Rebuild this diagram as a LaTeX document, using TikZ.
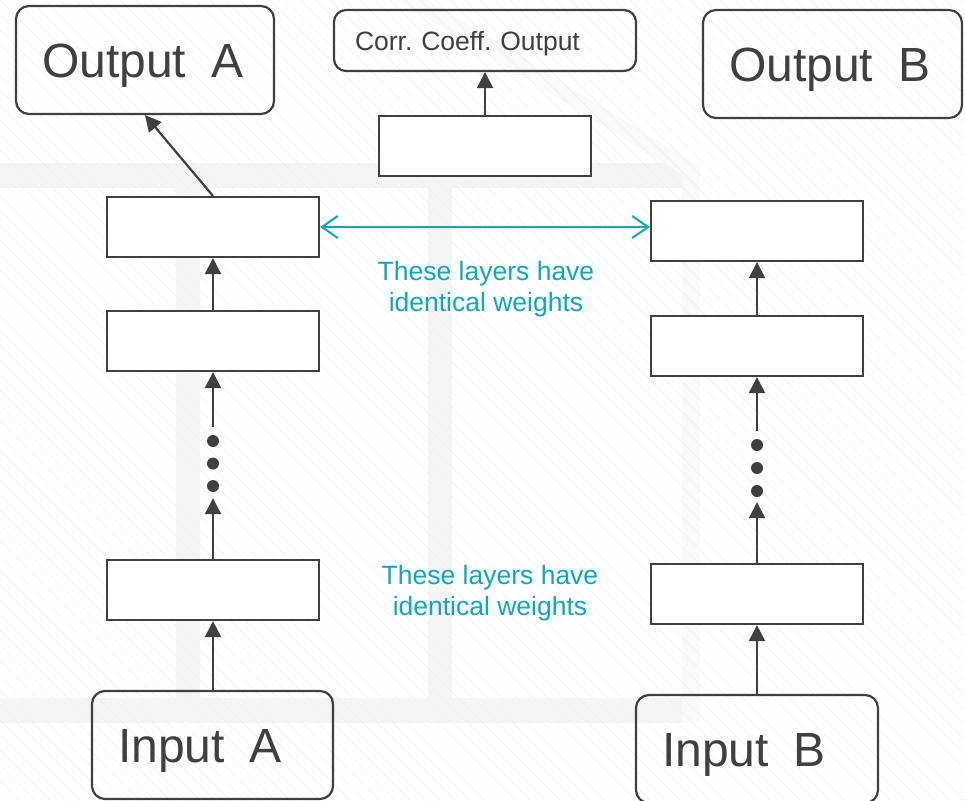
\documentclass[tikz,border=0pt]{standalone}
\usepackage{fontspec}
\setmainfont{Liberation Sans}
\usetikzlibrary{arrows.meta}
\definecolor{linegray}{HTML}{404040}
\definecolor{wteal}{HTML}{12A8B8}
\definecolor{bandgray}{HTML}{F5F5F5}
\definecolor{hatch}{HTML}{E9F4F5}

\begin{document}
\frenchspacing
\begin{tikzpicture}[x=1pt, y=-1pt,
	io/.style={draw=linegray, line width=2.2pt, rounded corners=13pt, text=linegray,
		minimum width=#1, minimum height=108pt, inner xsep=26pt, text width=#1-52pt, align=left,
		text height=35pt, text depth=0pt, font=\fontsize{48}{58}\selectfont},
	layer/.style={draw=linegray, line width=2.2pt, fill=white, minimum width=212pt, minimum height=60pt},
	dot/.style={circle, fill=linegray, inner sep=0pt, minimum size=12pt},
	arr/.style={draw=linegray, line width=2.2pt, -{Triangle[length=16pt,width=16pt]}},
	note/.style={text=wteal, align=center, font=\fontsize{26.5}{31}\selectfont}]

	% background
	\fill[white] (0,0) rectangle (965,800);
	\useasboundingbox (0,0) rectangle (965,800);
	\begin{scope}
		\clip (0,0) rectangle (965,800);
		\fill[bandgray] (0,163) rectangle (685,188);
		\fill[bandgray] (0,698) rectangle (685,723);
		\fill[bandgray] (176,188) rectangle (200,698);
		\fill[bandgray] (428,188) rectangle (452,698);
		\fill[bandgray!50!white] (682,163) rectangle (700,723);
		\draw[bandgray!45!white, line width=16pt] (405,-5) -- (690,170);
		\foreach \c in {-960,-945,...,960}
			\draw[hatch, line width=0.7pt] (\c,0) -- (\c+800,800);
	\end{scope}

	% outputs
	\node[io=258pt] (outA) at (145,60) {Output\hspace{.52em}A};
	\node[io=259pt] (outB) at (832.5,64) {Output\hspace{.52em}B};
	\node[draw=linegray, line width=2.2pt, rounded corners=12pt, text=linegray,
		minimum width=302pt, minimum height=61pt, inner xsep=21pt, text width=260pt, align=left,
		text height=19pt, text depth=0pt,
		font=\fontsize{26.5}{31}\selectfont] (corr) at (485,40.5) {Corr. Coeff. Output};
	\node[layer] (mid) at (485,146) {};

	% branch A
	\node[layer] (a1) at (213,227) {};
	\node[layer] (a2) at (213,341) {};
	\node[layer] (a3) at (213,590) {};
	\node[dot] (dA1) at (213,441) {};
	\node[dot] (dA2) at (213,463.5) {};
	\node[dot] (dA3) at (213,486) {};
	\node[io=241pt] (inA) at (212.5,745) {Input\hspace{.52em}A};

	% branch B
	\node[layer] (b1) at (757,231) {};
	\node[layer] (b2) at (757,346) {};
	\node[layer] (b3) at (757,594) {};
	\node[dot] (dB1) at (757,445) {};
	\node[dot] (dB2) at (757,468) {};
	\node[dot] (dB3) at (757,491) {};
	\node[io=242pt] (inB) at (757,749) {Input\hspace{.52em}B};

	% connectors
	\path[arr] (mid) -- (corr);
	\path[arr] (a1.north) -- (outA.south);
	\path[arr] (a2) -- (a1);
	\path[arr] ([yshift=8pt]dA1.north) -- (a2);
	\path[arr] (a3) -- ([yshift=-6pt]dA3.south);
	\path[arr] (inA.north -| a3) -- (a3);
	\path[arr] (b2) -- (b1);
	\path[arr] ([yshift=8pt]dB1.north) -- (b2);
	\path[arr] (b3) -- ([yshift=-5pt]dB3.south);
	\path[arr] (inB) -- (b3);

	\draw[wteal, line width=2pt, {Straight Barb[length=16pt,width=22pt]}-{Straight Barb[length=16pt,width=22pt]}]
		(a1.east) -- (a1.east -| b1.west);

	\node[note] (same1) at (486,289) {These layers have\\identical weights};
	\node[note] (same3) at (490,593) {These layers have\\identical weights};
\end{tikzpicture}
\end{document}
